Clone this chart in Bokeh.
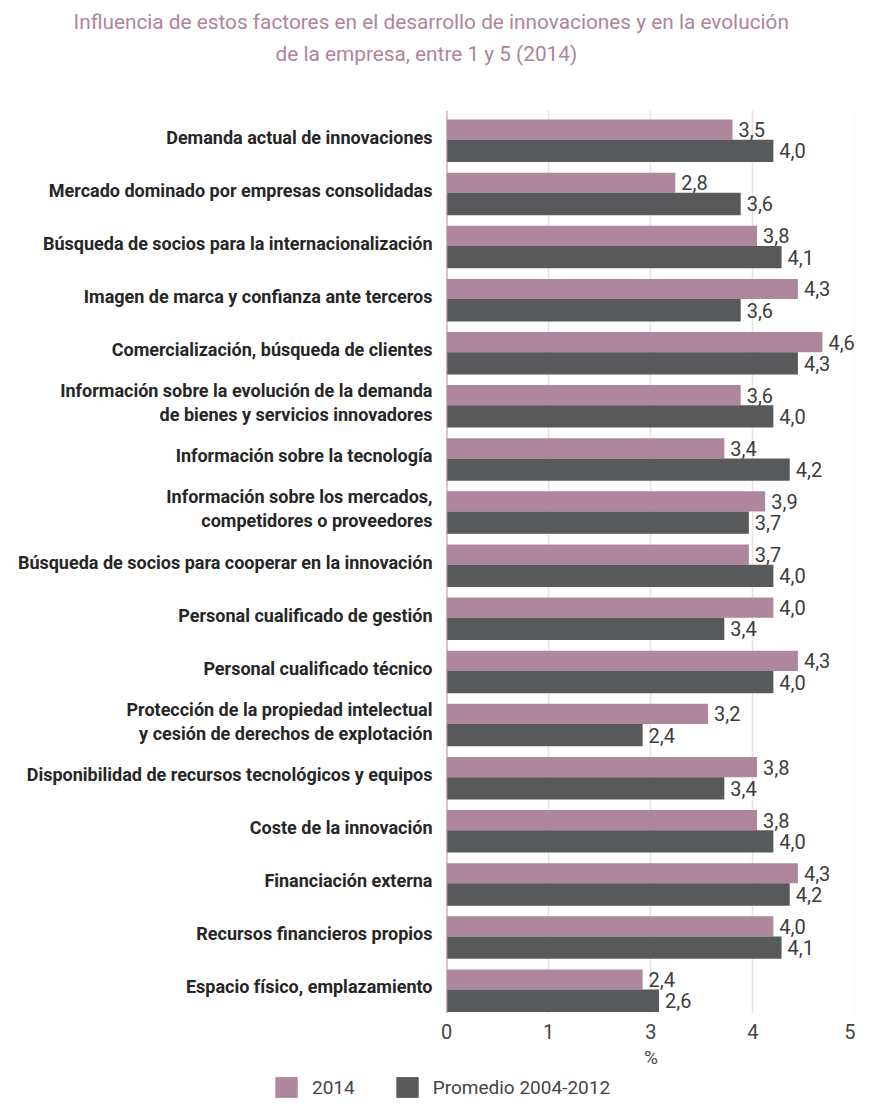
from bokeh.plotting import figure
from bokeh.layouts import column
from bokeh.models import (Range1d, FixedTicker, Span, Title,
                          ColumnDataSource, Legend, LegendItem)
from bokeh.core.properties import value
from bokeh.embed import file_html
from bokeh.resources import INLINE

# ---------------- data ----------------
categories = [
    "Demanda actual de innovaciones",
    "Mercado dominado por empresas consolidadas",
    "Búsqueda de socios para la internacionalización",
    "Imagen de marca y confianza ante terceros",
    "Comercialización, búsqueda de clientes",
    "Información sobre la evolución de la demanda\nde bienes y servicios innovadores",
    "Información sobre la tecnología",
    "Información sobre los mercados,\ncompetidores o proveedores",
    "Búsqueda de socios para cooperar en la innovación",
    "Personal cualificado de gestión",
    "Personal cualificado técnico",
    "Protección de la propiedad intelectual\ny cesión de derechos de explotación",
    "Disponibilidad de recursos tecnológicos y equipos",
    "Coste de la innovación",
    "Financiación externa",
    "Recursos financieros propios",
    "Espacio físico, emplazamiento",
]
vals_2014 = [3.5, 2.8, 3.8, 4.3, 4.6, 3.6, 3.4, 3.9, 3.7, 4.0, 4.3, 3.2, 3.8, 3.8, 4.3, 4.0, 2.4]
vals_avg = [4.0, 3.6, 4.1, 3.6, 4.3, 4.0, 4.2, 3.7, 4.0, 3.4, 4.0, 2.4, 3.4, 4.0, 4.2, 4.1, 2.6]
series_names = ["2014", "Promedio 2004-2012"]
x_ticks = [0.0, 1.25, 2.5, 3.75, 5.0]
x_tick_labels = ["0", "1", "3", "4", "5"]
x_axis_title = "%"
title_lines = [
    "Influencia de estos factores en el desarrollo de innovaciones y en la evolución",
    "de la empresa, entre 1 y 5 (2014)",
]

# ---------------- style ----------------
PINK = "#ae879c"
DARK = "#58595b"
TITLE_C = "#b0839b"
GRID_C = "#ecdfe6"
AXIS_C = "#b48aa1"
TXT = "#262626"
NUM_C = "#3d3d3d"
FONT = "Roboto"

W = 855
H1, H2 = 1075, 24
n = len(categories)
p = figure(width=W, height=H1, output_backend="svg", toolbar_location=None,
           x_range=Range1d(0, 5.005), y_range=Range1d(n, 0),
           min_border_left=446, min_border_right=0,
           min_border_top=110, min_border_bottom=62)
p.frame_align = False
p.outline_line_color = None
p.ygrid.visible = False
p.xgrid.grid_line_color = GRID_C
p.xgrid.grid_line_width = 1.5

ax = p.xaxis[0]
ax.ticker = FixedTicker(ticks=x_ticks)
ax.major_label_overrides = dict(zip(x_ticks, x_tick_labels))
ax.axis_line_color = None
ax.major_tick_line_color = None
ax.minor_tick_line_color = None
ax.major_tick_out = 0
ax.major_tick_in = 0
ax.major_label_standoff = 10
ax.major_label_text_font = FONT
ax.major_label_text_font_size = "20px"
ax.major_label_text_color = "#444444"
ax.axis_label = x_axis_title
ax.axis_label_text_font = FONT
ax.axis_label_text_font_style = "normal"
ax.axis_label_text_font_size = "19px"
ax.axis_label_text_color = "#444444"
ax.axis_label_standoff = 4

idx = list(range(n))
yc = [i + 0.5 for i in idx]
ay = p.yaxis[0]
ay.ticker = FixedTicker(ticks=yc)
ay.major_label_overrides = dict(zip(yc, categories))
ay.axis_line_color = None
ay.major_tick_line_color = None
ay.minor_tick_line_color = None
ay.major_tick_out = 0
ay.major_tick_in = 0
ay.major_label_standoff = 14
ay.major_label_text_font = FONT
ay.major_label_text_font_style = "bold"
ay.major_label_text_font_size = "18px"
ay.major_label_text_color = TXT
ay.major_label_text_line_height = 1.15

src = ColumnDataSource(dict(
    y1=[i + 0.36 for i in idx], y2=[i + 0.76 for i in idx],
    v1=vals_2014, v2=vals_avg,
    t1=[f"{v:.1f}".replace(".", ",") for v in vals_2014],
    t2=[f"{v:.1f}".replace(".", ",") for v in vals_avg],
))

r1 = p.hbar(y="y1", right="v1", left=0, height=0.38, source=src,
            fill_color=PINK, line_color=None)
r2 = p.hbar(y="y2", right="v2", left=0, height=0.42, source=src,
            fill_color=DARK, line_color=None)

p.add_layout(Span(location=0, dimension="height", line_color=AXIS_C, line_width=2))

for col_y, col_x, col_t in (("y1", "v1", "t1"), ("y2", "v2", "t2")):
    p.text(x=col_x, y=col_y, text=col_t, source=src, x_offset=6,
           text_baseline="middle", text_align="left",
           text_font=value(FONT), text_font_size="20px", text_color=NUM_C)

# above panel, stacked outward from the frame: spacer, line 2, line 1
p.add_layout(Title(text=" ", text_font_size="10px", standoff=29), "above")
p.add_layout(Title(text=title_lines[1], align="left", offset=-171,
                   text_font=FONT, text_font_style="normal",
                   text_font_size="20.8px", text_color=TITLE_C, standoff=6), "above")
p.add_layout(Title(text=title_lines[0], align="left", offset=-373,
                   text_font=FONT, text_font_style="normal",
                   text_font_size="20.8px", text_color=TITLE_C, standoff=6), "above")

# ---------------- legend strip ----------------
p2 = figure(width=W, height=H2, output_backend="svg", toolbar_location=None,
            x_range=Range1d(0, 1), y_range=Range1d(0, 1),
            x_axis_location=None, y_axis_location=None,
            min_border=0, min_border_left=0, min_border_right=0,
            min_border_top=0, min_border_bottom=0)
p2.frame_align = False
p2.outline_line_color = None
p2.xgrid.visible = False
p2.ygrid.visible = False
# zero-length keys (nothing visible in the strip), used only for the legend swatches
l1 = p2.hbar(y=[0.5], right=[0], left=0, height=0.5, fill_color=PINK, line_color=None)
l2 = p2.hbar(y=[0.5], right=[0], left=0, height=0.5, fill_color=DARK, line_color=None)
legend = Legend(items=[LegendItem(label=series_names[0], renderers=[l1]),
                       LegendItem(label=series_names[1], renderers=[l2])],
                orientation="horizontal", location=(272, -1),
                glyph_width=28, glyph_height=26, label_height=26,
                label_standoff=12, spacing=38, padding=0, margin=0,
                border_line_alpha=0, background_fill_alpha=0,
                label_text_font=FONT, label_text_font_size="19px",
                label_text_color="#444444")
p2.add_layout(legend)

open("out.html", "w").write(file_html(column(p, p2, spacing=0), INLINE))
